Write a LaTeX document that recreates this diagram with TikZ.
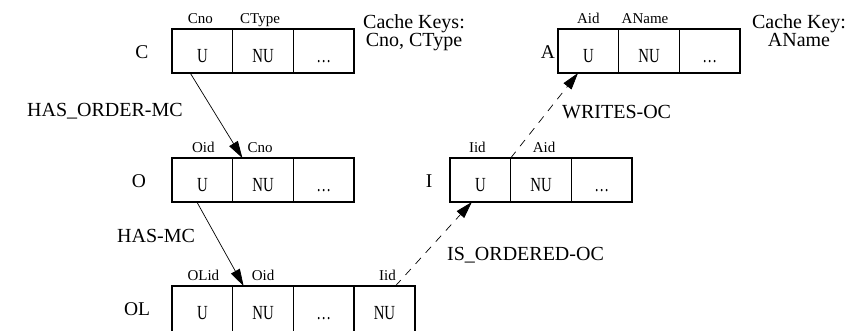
\documentclass[tikz,border=0pt]{standalone}
\usepackage{fontspec}
\usepackage{graphicx}
\setmainfont{Liberation Serif}
\usetikzlibrary{arrows.meta,calc}
\newcommand\celltxt[1]{\scalebox{0.74}[1]{#1}}
\begin{document}
\begin{tikzpicture}[x=1pt,y=-1pt,
  cellbox/.style={draw,line width=1.4pt,minimum width=60.7pt,minimum height=44pt,
    text height=33pt,text depth=11pt,inner sep=0pt,outer sep=0pt,anchor=north west,
    font=\fontsize{20}{20}\selectfont},
  olcell/.style={cellbox,minimum height=48pt,text depth=15pt},
  headtext/.style={anchor=base,inner sep=0pt,font=\fontsize{15}{15}\selectfont},
  tabname/.style={anchor=base,inner sep=0pt,font=\fontsize{19.5}{20}\selectfont},
  reltext/.style={anchor=base west,inner sep=0pt,font=\fontsize{20}{20}\selectfont},
  keytext/.style={align=center,anchor=north,inner sep=0pt,font=\fontsize{20}{17}\selectfont},
  link/.style={line width=0.7pt,-{Triangle[length=17pt,width=10pt]}},
  optlink/.style={link,dash pattern=on 8pt off 7pt}]
\useasboundingbox (0,0) rectangle (865,330);
\fill[white] (0,0) rectangle (865,330);

% Table C
\node[cellbox] (C1) at (172,29) {\celltxt{U}};
\node[cellbox] (C2) at (C1.north east) {\celltxt{NU}};
\node[cellbox] (C3) at (C2.north east) {\celltxt{\ldots}};
\node[tabname] (Cn) at ($(C1.north west)+(-30pt,-29pt)$) {C};
\node[headtext] (Ch1) at ($(C1.north)+(-2pt,6pt)$) {Cno};
\node[headtext] (Ch2) at ($(C2.north)+(-3pt,6pt)$) {CType};
\node[keytext] (Ckey) at (414,14) {Cache Keys:\\Cno, CType};

% Table A
\node[cellbox] (A1) at (558,29) {\celltxt{U}};
\node[cellbox] (A2) at (A1.north east) {\celltxt{NU}};
\node[cellbox] (A3) at (A2.north east) {\celltxt{\ldots}};
\node[tabname] (An) at ($(A1.north west)+(-10pt,-29pt)$) {A};
\node[headtext] (Ah1) at ($(A1.north)+(0pt,6pt)$) {Aid};
\node[headtext] (Ah2) at ($(A2.north)+(-4pt,6pt)$) {AName};
\node[keytext] (Akey) at (799,14) {Cache Key:\\AName};

% Table O
\node[cellbox] (O1) at (172,158) {\celltxt{U}};
\node[cellbox] (O2) at (O1.north east) {\celltxt{NU}};
\node[cellbox] (O3) at (O2.north east) {\celltxt{\ldots}};
\node[tabname] (On) at ($(O1.north west)+(-33pt,-29pt)$) {O};
\node[headtext] (Oh1) at ($(O1.north)+(1pt,6pt)$) {Oid};
\node[headtext] (Oh2) at ($(O2.north)+(-3pt,6pt)$) {Cno};

% Table I
\node[cellbox] (I1) at (450,158) {\celltxt{U}};
\node[cellbox] (I2) at (I1.north east) {\celltxt{NU}};
\node[cellbox] (I3) at (I2.north east) {\celltxt{\ldots}};
\node[tabname] (In) at ($(I1.north west)+(-21pt,-29pt)$) {I};
\node[headtext] (Ih1) at ($(I1.north)+(-3pt,6pt)$) {Iid};
\node[headtext] (Ih2) at ($(I2.north)+(3pt,6pt)$) {Aid};

% Table OL
\node[olcell] (L1) at (172,286) {\celltxt{U}};
\node[olcell] (L2) at (L1.north east) {\celltxt{NU}};
\node[olcell] (L3) at (L2.north east) {\celltxt{\ldots}};
\node[olcell] (L4) at (L3.north east) {\celltxt{NU}};
\node[tabname] (Ln) at ($(L1.north west)+(-35pt,-29pt)$) {OL};
\node[headtext] (Lh1) at ($(L1.north)+(1pt,6pt)$) {OLid};
\node[headtext] (Lh2) at ($(L2.north)+(0pt,6pt)$) {Oid};
\node[headtext] (Lh4) at ($(L4.north)+(3pt,6pt)$) {Iid};

% Relationship labels
\node[reltext] (r1) at (27,116) {HAS\_ORDER-MC};
\node[reltext] (r2) at (117,242) {HAS-MC};
\node[reltext] (r3) at (562,118) {WRITES-OC};
\node[reltext] (r4) at (447,260) {IS\_ORDERED-OC};

% Connectors
\draw[link] ($(C1.south west)!0.30!(C1.south east)$) -- ($(O2.north west)!0.16!(O2.north east)$);
\draw[link] ($(O1.south west)!0.41!(O1.south east)$) -- ($(L2.north west)!0.18!(L2.north east)$);
\draw[optlink] ($(L4.north west)!0.68!(L4.north east)$) -- ($(I1.south west)!0.36!(I1.south east)$);
\draw[optlink] (I2.north west) -- ($(A1.south west)!0.33!(A1.south east)$);
\end{tikzpicture}
\end{document}
